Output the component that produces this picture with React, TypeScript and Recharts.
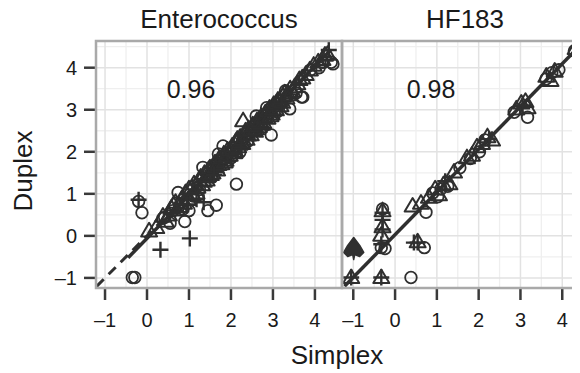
import React from 'react';
import { ScatterChart, Scatter, XAxis, YAxis, ReferenceLine } from 'recharts';

// ---- data ----
const axisTicks = [-1, 0, 1, 2, 3, 4];
const gridMajor = [-1, 0, 1, 2, 3, 4];
const gridMinor = [-0.5, 0.5, 1.5, 2.5, 3.5, 4.5];

const panelTitles = ['Enterococcus', 'HF183'];
const panelR = ['0.96', '0.98'];

// Enterococcus
const entTriangles: [number, number][] = [
  [0.05, 0.12], [0.22, 0.2], [0.38, 0.47], [0.52, 0.5], [0.63, 0.74], [0.71, 0.62],
  [0.83, 0.88], [0.92, 1.03], [0.98, 0.87], [1.07, 1.14], [1.12, 1.24], [1.18, 1.02],
  [1.24, 1.33], [1.31, 1.22], [1.37, 1.49], [1.42, 1.33], [1.47, 1.58], [1.52, 1.46],
  [1.58, 1.66], [1.62, 1.74], [1.67, 1.57], [1.72, 1.84], [1.77, 1.72], [1.83, 1.95],
  [1.87, 1.8], [1.92, 2.04], [1.97, 1.92], [2.03, 2.14], [2.08, 1.98], [2.12, 2.25],
  [2.17, 2.12], [2.22, 2.35], [2.27, 2.2], [2.29, 2.74], [2.33, 2.44], [2.37, 2.3],
  [2.42, 2.55], [2.47, 2.41], [2.52, 2.64], [2.57, 2.49], [2.62, 2.74], [2.66, 2.6],
  [2.72, 2.84], [2.77, 2.7], [2.82, 2.93], [2.87, 2.8], [2.92, 3.04], [2.97, 2.9],
  [3.02, 3.13], [3.07, 3.0], [3.12, 3.23], [3.18, 3.1], [3.24, 3.33], [3.32, 3.28],
  [3.41, 3.5], [3.52, 3.55], [3.63, 3.72], [3.78, 3.84], [3.97, 4.06], [4.18, 4.2],
  [4.3, 4.32],
  [0.45, 0.35], [0.58, 0.66], [0.68, 0.8], [0.77, 0.7], [0.88, 0.78], [1.0, 1.12],
  [1.09, 0.98], [1.2, 1.16], [1.28, 1.4], [1.35, 1.3], [1.44, 1.42], [1.5, 1.62],
  [1.56, 1.5], [1.64, 1.64], [1.7, 1.7], [1.78, 1.86], [1.85, 1.76], [1.9, 1.9],
  [1.98, 2.05], [2.05, 2.08], [2.1, 2.02], [2.15, 2.3], [2.2, 2.18], [2.28, 2.3],
  [2.35, 2.5], [2.4, 2.4], [2.48, 2.52], [2.55, 2.62], [2.6, 2.55], [2.68, 2.72],
  [2.74, 2.66], [2.8, 2.82], [2.88, 2.98], [2.94, 2.86], [3.0, 3.02], [3.08, 3.16],
  [3.15, 3.22], [3.22, 3.18], [3.28, 3.4], [3.36, 3.36], [3.46, 3.44], [3.58, 3.62],
  [3.7, 3.76], [3.88, 3.95], [4.08, 4.14], [4.24, 4.3],
];
const entCircles: [number, number][] = [
  [-0.35, -0.99], [-0.29, -0.99], [-0.2, 0.82], [-0.12, 0.55], [0.38, 0.42], [0.62, 0.6],
  [0.74, 1.03], [0.9, 0.34], [0.86, 0.64], [0.42, 0.44], [1.45, 0.6], [1.65, 0.73],
  [1.33, 1.63], [2.13, 1.23], [1.81, 2.14], [2.21, 1.99], [2.96, 2.4], [3.4, 3.02],
  [3.68, 3.3], [4.39, 4.13], [4.19, 4.13], [4.43, 4.09], [3.71, 3.3], [1.1, 0.95],
  [1.25, 1.1], [1.55, 1.4], [1.7, 1.95], [2.0, 1.85], [2.4, 2.25], [2.6, 2.85],
  [2.85, 3.05], [3.1, 2.95], [3.3, 3.45], [3.55, 3.4], [3.9, 3.95], [4.1, 4.0],
  [0.55, 0.3], [1.0, 0.6],
];
const entPlus: [number, number][] = [
  [-0.2, 0.86], [0.32, -0.33], [1.02, -0.06], [1.18, 0.87], [1.35, 0.8], [0.95, 0.75],
  [1.6, 1.45], [2.25, 2.1], [2.7, 2.55], [3.2, 3.15], [4.33, 4.42],
];
const entFill: [number, number][] = [];

// HF183
const hfTriangles: [number, number][] = [
  [-1.05, -0.99], [-0.33, -0.99], [-0.3, 0.6], [-0.33, 0.02], [-0.3, 0.22], [0.54, -0.14],
  [0.42, 0.71], [0.62, 0.78], [0.81, 0.92], [0.96, 1.12], [1.05, 0.98], [1.16, 1.22],
  [1.3, 1.24], [1.41, 1.52], [1.72, 1.86], [1.84, 1.92], [1.96, 2.12], [2.08, 2.2],
  [2.21, 2.36], [2.32, 2.28], [2.9, 3.02], [3.02, 3.16], [3.12, 3.2], [3.17, 3.05],
  [3.62, 3.8], [3.72, 3.7], [3.82, 3.92], [4.32, 4.46],
];
const hfCircles: [number, number][] = [
  [-0.3, 0.64], [-0.33, -0.28], [-0.24, -0.3], [0.7, -0.28], [0.38, -0.99], [0.74, 0.56],
  [2.85, 2.94], [3.17, 2.82], [3.61, 3.73], [4.29, 4.4], [4.42, 4.52], [0.9, 1.02],
  [1.1, 1.12], [1.26, 1.18], [1.02, 0.93], [1.8, 1.84], [2.02, 2.0], [2.15, 2.28],
  [3.75, 3.88], [3.92, 3.95], [1.55, 1.62],
];
const hfPlus: [number, number][] = [
  [-1.05, -0.99], [-0.33, -0.99], [-0.3, 0.55], [-0.3, 0.38], [-0.3, 0.15], [-0.33, -0.2],
  [0.54, -0.16], [0.45, -0.16], [1.2, 1.3], [2.25, 2.3], [3.05, 3.1],
];
const hfFill: [number, number][] = [[-0.99, -0.3]];

// fitted lines and 1:1 line end points
const entFit: [number, number][] = [[-0.45, -0.52], [4.38, 4.43]];
const entOneToOne: [number, number][] = [[-1.2, -1.2], [4.3, 4.3]];
const hfFit: [number, number][] = [[-1.21, -1.2], [4.4, 4.5]];

const FONT = '"Liberation Sans", Arial, Helvetica, sans-serif';
const INK = '#2f2f2f';

const toPts = (a: [number, number][]) => a.map(([x, y]) => ({ x, y }));
const fmt = (v: number) => (v < 0 ? '\u2013' + Math.abs(v) : String(v));

const OpenCircle = (p: any) => (
  <circle cx={p.cx} cy={p.cy} r={5.8} fill="none" stroke={INK} strokeWidth={1.8} />
);
const OpenTriangle = (p: any) => {
  const s = 8;
  return (
    <path
      d={`M${p.cx},${p.cy - s} L${p.cx + s},${p.cy + s * 0.7} L${p.cx - s},${p.cy + s * 0.7} Z`}
      fill="none" stroke={INK} strokeWidth={2} strokeLinejoin="round"
    />
  );
};
const PlusMark = (p: any) => {
  const s = 8;
  return (
    <path d={`M${p.cx - s},${p.cy} H${p.cx + s} M${p.cx},${p.cy - s} V${p.cy + s}`}
      stroke={INK} strokeWidth={2.4} fill="none" />
  );
};
const FilledMark = (p: any) => {
  const { cx, cy } = p;
  return (
    <path d={`M${cx},${cy - 11} L${cx + 6},${cy - 3} L${cx + 10},${cy + 4} L${cx + 6},${cy + 8}
      L${cx + 1},${cy + 6} L${cx},${cy + 11} L${cx - 1},${cy + 6} L${cx - 6},${cy + 8}
      L${cx - 10},${cy + 4} L${cx - 6},${cy - 3} Z`}
      fill={INK} stroke={INK} strokeWidth={1.5} strokeLinejoin="round" />
  );
};

type PanelProps = {
  left: number;
  width: number;
  xDom: [number, number];
  showY: boolean;
  tri: [number, number][];
  circ: [number, number][];
  plus: [number, number][];
  fill: [number, number][];
  fit: [number, number][];
  oneToOne?: [number, number][];
};

const Y_DOM: [number, number] = [-1.24, 4.635];

function Panel({ left, width, xDom, showY, tri, circ, plus, fill, fit, oneToOne }: PanelProps) {
  const tickStyle = { fontSize: 20, fill: '#1a1a1a', fontFamily: FONT };
  return (
    <div style={{ position: 'absolute', left, top: 0 }}>
      <ScatterChart width={width} height={373} margin={{ top: 41, right: 0, bottom: 0, left: 0 }}>
        <XAxis type="number" dataKey="x" domain={xDom} ticks={axisTicks} interval={0}
          allowDataOverflow height={85} axisLine={false} tickSize={12} tickMargin={13}
          tickLine={{ stroke: '#3a3a3a', strokeWidth: 2.5 }} tick={tickStyle} tickFormatter={fmt} />
        <YAxis type="number" dataKey="y" domain={Y_DOM} ticks={axisTicks} interval={0}
          allowDataOverflow hide={!showY} width={96} axisLine={false} tickSize={12} tickMargin={7}
          tickLine={{ stroke: '#3a3a3a', strokeWidth: 2.5 }} tick={tickStyle} tickFormatter={fmt} />
        {gridMinor.map(v => <ReferenceLine key={'mx' + v} x={v} stroke="#efefef" strokeWidth={1.3} />)}
        {gridMinor.map(v => <ReferenceLine key={'my' + v} y={v} stroke="#efefef" strokeWidth={1.3} />)}
        {gridMajor.map(v => <ReferenceLine key={'Mx' + v} x={v} stroke="#e2e2e2" strokeWidth={1.5} />)}
        {gridMajor.map(v => <ReferenceLine key={'My' + v} y={v} stroke="#e2e2e2" strokeWidth={1.5} />)}
        {oneToOne && (
          <ReferenceLine segment={[{ x: oneToOne[0][0], y: oneToOne[0][1] }, { x: oneToOne[1][0], y: oneToOne[1][1] }]}
            stroke={INK} strokeWidth={3} strokeDasharray="10 7" />
        )}
        <ReferenceLine segment={[{ x: fit[0][0], y: fit[0][1] }, { x: fit[1][0], y: fit[1][1] }]}
          stroke={INK} strokeWidth={3.5} />
        <Scatter data={toPts(circ)} shape={OpenCircle} isAnimationActive={false} />
        <Scatter data={toPts(tri)} shape={OpenTriangle} isAnimationActive={false} />
        <Scatter data={toPts(plus)} shape={PlusMark} isAnimationActive={false} />
        <Scatter data={toPts(fill)} shape={FilledMark} isAnimationActive={false} />
      </ScatterChart>
    </div>
  );
}

export default function App() {
  return (
    <div style={{ position: 'relative', width: 580, height: 373, margin: '-8px 0 0 -8px',
      overflow: 'hidden', background: '#fff', fontFamily: FONT }}>
      <Panel left={0} width={342} xDom={[-1.215, 4.645]} showY tri={entTriangles}
        circ={entCircles} plus={entPlus} fill={entFill} fit={entFit} oneToOne={entOneToOne} />
      <Panel left={342} width={247} xDom={[-1.27, 4.64]} showY={false} tri={hfTriangles}
        circ={hfCircles} plus={hfPlus} fill={hfFill} fit={hfFit} />
      <svg width={580} height={373} style={{ position: 'absolute', left: 0, top: 0, pointerEvents: 'none' }}>
        <rect x={96} y={41} width={246} height={247} fill="none" stroke="#a9a9a9" strokeWidth={2.5} />
        <rect x={342} y={41} width={247} height={247} fill="none" stroke="#a9a9a9" strokeWidth={2.5} />
        <g fontFamily={FONT} fill="#1a1a1a">
          <text x={219} y={28} fontSize={26} textAnchor="middle">{panelTitles[0]}</text>
          <text x={465} y={28} fontSize={26} textAnchor="middle">{panelTitles[1]}</text>
          <text x={191} y={98} fontSize={25} textAnchor="middle">{panelR[0]}</text>
          <text x={431} y={98} fontSize={25} textAnchor="middle">{panelR[1]}</text>
          <text x={337} y={364} fontSize={26} textAnchor="middle">Simplex</text>
          <text transform="translate(32,171) rotate(-90)" fontSize={26} textAnchor="middle">Duplex</text>
        </g>
      </svg>
    </div>
  );
}
